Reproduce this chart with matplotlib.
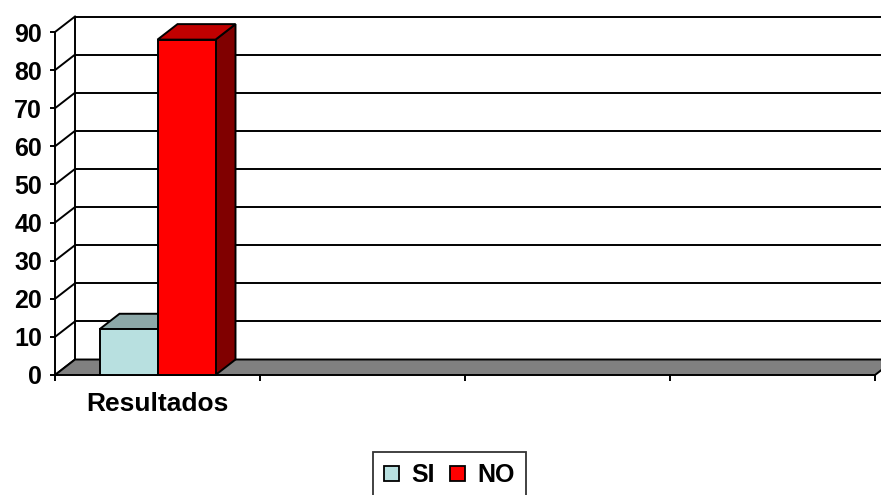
import matplotlib
matplotlib.use("Agg")
import matplotlib.pyplot as plt
from matplotlib.patches import Polygon, Patch

plt.rcParams['font.family'] = ['Liberation Sans', 'DejaVu Sans']

# ---- data ----
categories = ["Resultados"]
series_names = ["SI", "NO"]
series_values = [12, 88]
y_ticks = [0, 10, 20, 30, 40, 50, 60, 70, 80, 90]

front_colors = ["#B8E0E0", "#FF0000"]
top_colors = ["#8CA8A8", "#C00000"]
side_colors = ["#6E8C8C", "#800000"]

W, H = 881, 495
FS = 18
fig = plt.figure(figsize=(W / 100, H / 100), dpi=100)
ax = fig.add_axes([55 / W, 120 / H, 820 / W, 343 / H])
n_slots = 4
ax.set_xlim(0, n_slots)
ax.set_ylim(0, 90)

# 3D depth offset in data units
ddx = 20 * n_slots / 820
ddy = 15.5 * 90 / 343
ymax = y_ticks[-1]
xr = n_slots + 0.2  # back wall extends to figure edge

lw = 1.4
# back wall
ax.add_patch(Polygon([(ddx, ddy), (xr, ddy), (xr, ymax + ddy), (ddx, ymax + ddy)],
                     closed=True, facecolor="white", edgecolor="none", clip_on=False, zorder=1))
for v in y_ticks:
    ax.plot([ddx, xr], [v + ddy, v + ddy], color="black", lw=lw, clip_on=False, zorder=2)
    # side wall diagonals
    ax.plot([0, ddx], [v, v + ddy], color="black", lw=lw, clip_on=False, zorder=2)
ax.plot([ddx, ddx], [ddy, ymax + ddy], color="black", lw=lw, clip_on=False, zorder=2)

# floor
ax.add_patch(Polygon([(0, 0), (n_slots, 0), (n_slots + ddx, ddy), (ddx, ddy)], closed=True,
                     facecolor="#808080", edgecolor="black", lw=lw, clip_on=False, zorder=3))

# bars
bar_w = (157 - 99) * n_slots / 820
center = 0.5
starts = [center - bar_w, center]
for i, (x0, v) in enumerate(zip(starts, series_values)):
    x1 = x0 + bar_w
    ax.add_patch(Polygon([(x1, 0), (x1 + ddx, ddy), (x1 + ddx, v + ddy), (x1, v)], closed=True,
                         facecolor=side_colors[i], edgecolor="black", lw=lw, clip_on=False, zorder=4 + i))
    ax.add_patch(Polygon([(x0, v), (x1, v), (x1 + ddx, v + ddy), (x0 + ddx, v + ddy)], closed=True,
                         facecolor=top_colors[i], edgecolor="black", lw=lw, clip_on=False, zorder=4 + i))
    ax.add_patch(Polygon([(x0, 0), (x1, 0), (x1, v), (x0, v)], closed=True,
                         facecolor=front_colors[i], edgecolor="black", lw=lw, clip_on=False, zorder=4 + i))

# axes styling
for s in ["top", "right", "bottom"]:
    ax.spines[s].set_visible(False)
ax.spines["left"].set_linewidth(lw)
ax.spines["left"].set_zorder(10)
ax.patch.set_visible(False)

ax.set_yticks(y_ticks)
ax.set_yticklabels([str(t) for t in y_ticks], fontsize=FS, fontweight="bold")
ax.tick_params(axis="y", length=3.6, width=lw, pad=5.8)

ax.set_xticks(range(n_slots + 1))
ax.set_xticklabels([""] * (n_slots + 1))
ax.tick_params(axis="x", which="major", length=4, width=lw, direction="out")
ax.set_xticks([center], minor=True)
ax.set_xticklabels(categories, minor=True, fontsize=19, fontweight="bold")
ax.tick_params(axis="x", which="minor", length=0, pad=12)

handles = [Patch(facecolor=front_colors[i], edgecolor="black", lw=1.3, label=series_names[i])
           for i in range(len(series_names))]
leg = fig.legend(handles=handles, loc="upper left", bbox_to_anchor=(373 / W, 1 - 452 / H),
                 ncol=2, frameon=True, fancybox=False, shadow=False,
                 prop={"size": FS, "weight": "bold"}, handlelength=0.6, handleheight=0.56,
                 handletextpad=0.5, columnspacing=0.6, borderpad=0.45, borderaxespad=0)
leg.get_frame().set_edgecolor("black")
leg.get_frame().set_linewidth(1.3)

fig.savefig("out.png", dpi=100)
